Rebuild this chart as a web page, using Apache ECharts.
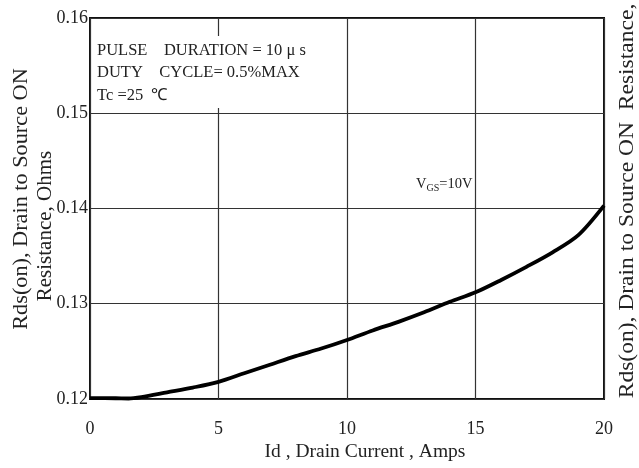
<!DOCTYPE html>
<html><head><meta charset="utf-8">
<script src="https://cdn.jsdelivr.net/npm/echarts@6/dist/echarts.min.js"></script>
<style>html,body{margin:0;padding:0;background:#fff}#c{width:639px;height:468px}</style>
</head><body><div id="c"></div>
<script>
const currentAmps = [0, 1, 1.5, 2, 3, 4, 5, 6, 7, 8, 9, 10, 11, 12, 13, 14, 15, 16, 17, 18, 19, 20];
const rdsOhms = [0.1201, 0.12008, 0.12005, 0.1202, 0.1207, 0.1212, 0.1218, 0.1227, 0.1236, 0.1245, 0.1253, 0.1262, 0.1272, 0.1281, 0.1291, 0.1302, 0.1312, 0.1325, 0.1339, 0.1354, 0.1372, 0.1403];
const xTicks = [0, 5, 10, 15, 20];
const yTicks = [0.12, 0.13, 0.14, 0.15, 0.16];
const xTitle = 'Id , Drain Current , Amps';
const yTitle1 = 'Rds(on), Drain to Source ON';
const yTitle2 = 'Resistance, Ohms';
const rightTitle = 'Rds(on), Drain to Source ON  Resistance,';
const noteLines = ['PULSE    DURATION = 10 μ s', 'DUTY    CYCLE= 0.5%MAX', 'Tc =25  ℃'];

const F = 'Liberation Serif, Times New Roman, serif';
const chart = echarts.init(document.getElementById('c'));
chart.setOption({
  animation: false,
  backgroundColor: '#fff',
  grid: { left: 90, right: 35, top: 18, bottom: 69, show: true, borderColor: '#111', borderWidth: 2, backgroundColor: 'transparent' },
  xAxis: {
    type: 'value', min: 0, max: 20, interval: 5,
    axisLine: { show: false }, axisTick: { show: false },
    splitLine: { show: true, lineStyle: { color: '#333', width: 1.2 } },
    axisLabel: { color: '#222', fontFamily: F, fontSize: 18, margin: 21, formatter: v => xTicks.includes(v) ? String(v) : '' }
  },
  yAxis: {
    type: 'value', min: 0.12, max: 0.16, interval: 0.01,
    axisLine: { show: false }, axisTick: { show: false },
    splitLine: { show: true, lineStyle: { color: '#333', width: 1.2 } },
    axisLabel: { color: '#222', fontFamily: F, fontSize: 18, margin: 2, formatter: v => { const t = yTicks.find(y => Math.abs(y - v) < 1e-9); return t !== undefined ? t.toFixed(2) : ''; } }
  },
  series: [{
    type: 'line', smooth: 0.3, symbol: 'none',
    data: currentAmps.map((x, i) => [x, rdsOhms[i]]),
    lineStyle: { color: '#000', width: 3.8 },
    z: 5
  }],
  graphic: [
    { type: 'rect', left: 93, top: 36, shape: { width: 225, height: 72 }, style: { fill: '#fff' }, z: 10 },
    { type: 'text', left: 97, top: 39, z: 11, style: { text: noteLines.join('\n'), font: '16.5px ' + F, fill: '#222', lineHeight: 22.5 } },
    { type: 'text', left: 416, top: 177, z: 11, style: { rich: { n: { font: '14.5px ' + F, fill: '#222' }, s: { font: '10px ' + F, fill: '#222', padding: [8, 0, 0, 0] } }, text: '{n|V}{s|GS}{n|=10V}' } },
    { type: 'text', x: 365, y: 452, z: 11, style: { text: xTitle, font: '19.5px ' + F, fill: '#222', align: 'center', verticalAlign: 'middle' } },
    { type: 'text', x: 21, y: 199, rotation: Math.PI / 2, scaleX: 1.06, z: 11, style: { text: yTitle1, font: '21px ' + F, fill: '#222', align: 'center', verticalAlign: 'middle' } },
    { type: 'text', x: 45, y: 226, rotation: Math.PI / 2, z: 11, style: { text: yTitle2, font: '21px ' + F, fill: '#222', align: 'center', verticalAlign: 'middle' } },
    { type: 'text', x: 627, y: 201, rotation: Math.PI / 2, scaleX: 1.12, z: 11, style: { text: rightTitle, font: '21px ' + F, fill: '#222', align: 'center', verticalAlign: 'middle' } }
  ]
});
</script></body></html>
